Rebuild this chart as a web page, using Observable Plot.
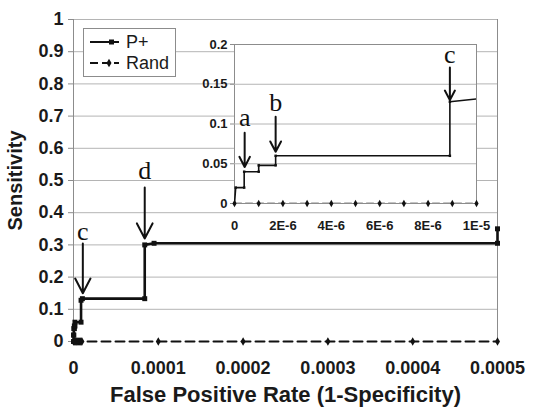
<!DOCTYPE html>
<html><head><meta charset="utf-8">
<script src="https://cdn.jsdelivr.net/npm/d3@7"></script>
<script src="https://cdn.jsdelivr.net/npm/@observablehq/plot@0.6"></script>
<style>
html,body{margin:0;padding:0;background:#fff;}
#wrap{position:relative;width:545px;height:407px;font-family:"Liberation Sans",Arial,sans-serif;}
#wrap > svg{position:absolute;}
</style></head><body><div id="wrap"></div>
<script>
// P+ ROC points
const pX = [0, 0.05e-6, 0.4e-6, 0.4e-6, 1.0e-6, 1.0e-6, 1.7e-6, 1.7e-6, 8.9e-6, 8.9e-6, 1.05e-5, 8.4e-5, 8.4e-5, 9.5e-5, 5e-4, 5e-4];
const pY = [0, 0.02, 0.02, 0.04, 0.04, 0.048, 0.048, 0.06, 0.06, 0.128, 0.133, 0.133, 0.30, 0.305, 0.305, 0.35];
// Rand points
const randX = [0, 1e-6, 2e-6, 3e-6, 4e-6, 5e-6, 6e-6, 7e-6, 8e-6, 9e-6, 1e-5, 1e-4, 2e-4, 3e-4, 4e-4, 5e-4];
const randY = [0, 0, 0, 0, 0, 0, 0, 0, 0, 0, 0, 0, 0, 0, 0, 0];
// main axis ticks
const mainXTicks = [0, 0.0001, 0.0002, 0.0003, 0.0004, 0.0005];
const mainXLabels = ["0", "0.0001", "0.0002", "0.0003", "0.0004", "0.0005"];
const mainYTicks = [0, 0.1, 0.2, 0.3, 0.4, 0.5, 0.6, 0.7, 0.8, 0.9, 1];
const mainYLabels = ["0", "0.1", "0.2", "0.3", "0.4", "0.5", "0.6", "0.7", "0.8", "0.9", "1"];
// inset axis ticks
const insetXTicks = [0, 2e-6, 4e-6, 6e-6, 8e-6, 1e-5];
const insetXLabels = ["0", "2E-6", "4E-6", "6E-6", "8E-6", "1E-5"];
const insetYTicks = [0, 0.05, 0.1, 0.15, 0.2];
const insetYLabels = ["0", "0.05", "0.1", "0.15", "0.2"];
// annotations (main)
const mainNoteText = ["c", "d"];
const mainNoteX = [1.1e-5, 8.4e-5];
const mainNoteY = [0.342, 0.53];
const mainNoteFrom = [0.304, 0.478];
const mainNoteTo = [0.15, 0.32];
// annotations (inset)
const insetNoteText = ["a", "b", "c"];
const insetNoteX = [0.42e-6, 1.7e-6, 8.9e-6];
const insetNoteY = [0.108, 0.127, 0.187];
const insetNoteFrom = [0.089, 0.109, 0.171];
const insetNoteTo = [0.046, 0.065, 0.13];
// legend
const seriesNames = ["P+", "Rand"];

const pData = pX.map((x, i) => ({x, y: pY[i]}));
const rData = randX.map((x, i) => ({x, y: randY[i]}));
const mainNotes = mainNoteText.map((t, i) => ({t, x: mainNoteX[i], y: mainNoteY[i], y1: mainNoteFrom[i], y2: mainNoteTo[i]}));
const insetNotes = insetNoteText.map((t, i) => ({t, x: insetNoteX[i], y: insetNoteY[i], y1: insetNoteFrom[i], y2: insetNoteTo[i]}));
const fmt = (ticks, labels) => d => labels[ticks.indexOf(d)];

const TXT = "#1a1a1a", GRID = "#b4b4b4", FRAME = "#8c8c8c";
const SANS = "Liberation Sans, Arial, sans-serif";
const SERIF = "Liberation Serif, Times New Roman, serif";

const main = Plot.plot({
  width: 545, height: 407,
  marginLeft: 73, marginRight: 48, marginTop: 19, marginBottom: 66,
  style: {background: "transparent", fontFamily: SANS, overflow: "visible"},
  x: {domain: [0, 0.0005], axis: null},
  y: {domain: [0, 1], axis: null},
  marks: [
    Plot.gridY(mainYTicks.slice(1), {stroke: GRID, strokeOpacity: 1}),
    Plot.ruleX([0, 0.0005], {stroke: FRAME}),
    Plot.axisY({ticks: mainYTicks, tickFormat: fmt(mainYTicks, mainYLabels), tickSize: 5, tickPadding: 5,
      fontSize: 18, fontWeight: "bold", fill: TXT, stroke: FRAME, label: null}),
    Plot.axisY({ticks: [], tickSize: 0, fontSize: 20, fontWeight: "bold", fill: TXT,
      label: "Sensitivity", labelAnchor: "center", labelArrow: "none", labelOffset: 66}),
    Plot.axisX({ticks: mainXTicks, tickFormat: fmt(mainXTicks, mainXLabels), tickSize: 0, tickPadding: 20,
      fontSize: 18, fontWeight: "bold", fill: TXT, label: null}),
    Plot.axisX({ticks: [], tickSize: 0, fontSize: 22, fontWeight: "bold", fill: TXT,
      label: "False Positive Rate (1-Specificity)", labelAnchor: "center", labelArrow: "none", labelOffset: 60}),
    Plot.line(rData, {x: "x", y: "y", stroke: "#111", strokeWidth: 2, strokeDasharray: "9,5"}),
    Plot.dot(rData, {x: "x", y: "y", symbol: "diamond", r: 2.6, fill: "#111"}),
    Plot.line(pData, {x: "x", y: "y", stroke: "#111", strokeWidth: 2.6}),
    Plot.dot(pData, {x: "x", y: "y", symbol: "square", r: 2.8, fill: "#111"}),
    Plot.arrow(mainNotes, {x1: "x", x2: "x", y1: "y1", y2: "y2", stroke: "#111", strokeWidth: 2, headLength: 13, headAngle: 55}),
    Plot.text(mainNotes, {x: "x", y: "y", text: "t", fontFamily: SERIF, fontSize: 26, fill: "#111"})
  ]
});
main.style.left = "0px"; main.style.top = "0px";

const inset = Plot.plot({
  width: 300, height: 215,
  marginLeft: 44, marginRight: 14, marginTop: 14, marginBottom: 42,
  style: {background: "transparent", fontFamily: SANS, overflow: "visible"},
  x: {domain: [0, 1e-5], axis: null},
  y: {domain: [0, 0.2], axis: null},
  marks: [
    Plot.frame({fill: "white", stroke: FRAME}),
    Plot.gridY([0.05, 0.1, 0.15], {stroke: GRID, strokeOpacity: 1}),
    Plot.axisY({ticks: insetYTicks, tickFormat: fmt(insetYTicks, insetYLabels), tickSize: 4, tickPadding: 3,
      fontSize: 13, fontWeight: "bold", fill: TXT, stroke: FRAME, label: null}),
    Plot.axisX({ticks: insetXTicks, tickFormat: fmt(insetXTicks, insetXLabels), tickSize: 0, tickPadding: 17,
      fontSize: 13, fontWeight: "bold", fill: TXT, label: null}),
    Plot.line(rData, {x: "x", y: "y", stroke: "#111", strokeWidth: 1.6, strokeDasharray: "7,4", clip: true}),
    Plot.dot(rData.filter(d => d.x <= 1e-5), {x: "x", y: "y", symbol: "diamond", r: 2.2, fill: "#111"}),
    Plot.line(pData, {x: "x", y: "y", stroke: "#111", strokeWidth: 1.6, clip: true}),
    Plot.dot(pData.filter(d => d.x <= 1e-5), {x: "x", y: "y", symbol: "square", r: 1.4, fill: "#111"}),
    Plot.arrow(insetNotes, {x1: "x", x2: "x", y1: "y1", y2: "y2", stroke: "#111", strokeWidth: 2, headLength: 12, headAngle: 55}),
    Plot.text(insetNotes, {x: "x", y: "y", text: "t", fontFamily: SERIF, fontSize: 26, fill: "#111"})
  ]
});
inset.style.left = "190px"; inset.style.top = "30px";

// legend
const leg = d3.create("svg").attr("width", 94).attr("height", 50)
  .style("left", "83px").style("top", "28px").style("position", "absolute");
leg.append("rect").attr("x", 0.5).attr("y", 0.5).attr("width", 92).attr("height", 48)
  .attr("fill", "white").attr("stroke", FRAME);
seriesNames.forEach((name, i) => {
  const cy = 14 + i * 21;
  leg.append("line").attr("x1", 7).attr("x2", 36).attr("y1", cy).attr("y2", cy)
    .attr("stroke", "#111").attr("stroke-width", 2).attr("stroke-dasharray", i === 1 ? "8,4" : null);
  if (i === 0) leg.append("rect").attr("x", 26).attr("y", cy - 2.5).attr("width", 5).attr("height", 5).attr("fill", "#111");
  else leg.append("path").attr("d", d3.symbol(d3.symbolDiamond, 22)()).attr("transform", `translate(26,${cy})`).attr("fill", "#111");
  leg.append("text").attr("x", 43).attr("y", cy).attr("dy", "0.36em")
    .attr("font-family", SANS).attr("font-size", 18).attr("fill", TXT).text(name);
});

const wrap = document.getElementById("wrap");
wrap.append(main, inset, leg.node());
</script></body></html>
